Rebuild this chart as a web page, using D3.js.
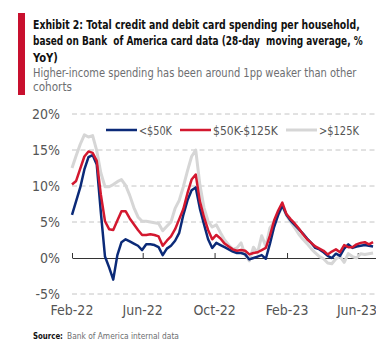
<!DOCTYPE html>
<html>
<head>
<meta charset="utf-8">
<script src="https://cdn.jsdelivr.net/npm/d3@7"></script>
<style>
  body { margin: 0; background: #fff; }
  svg { display: block; font-family: "Liberation Sans Narrow", "DejaVu Sans Condensed", sans-serif; }
</style>
</head>
<body>
<div class="chart"></div>
<script>
// weekly readings, first week starts 2022-02-01
var startDate = new Date(2022, 1, 1);

var under50 = [6.0, 7.9, 9.8, 12.3, 14.0, 14.3, 13.0, 6.3, 0.2, -1.3,
  -3.0, 0.4, 2.2, 2.6, 2.3, 2.0, 1.7, 1.1, 1.9, 1.9,
  1.8, 1.5, 0.4, 1.3, 1.7, 2.4, 3.5, 6.0, 8.0, 9.4,
  9.8, 6.9, 4.7, 2.6, 1.4, 2.1, 1.8, 1.5, 1.2, 0.9,
  0.7, 0.7, 0.5, -0.2, 0.0, 0.2, 0.4, -0.1, 2.0, 4.3,
  6.0, 7.3, 6.0, 5.2, 4.6, 4.0, 3.4, 2.7, 2.1, 1.4,
  1.2, 0.8, 0.3, 0.0, 0.6, 0.3, 1.3, 1.9, 1.4, 1.6,
  1.7, 1.8, 1.7, 1.6];

var mid50to125 = [10.2, 10.7, 12.4, 14.1, 14.8, 14.6, 13.5, 8.8, 5.1, 4.0,
  3.9, 5.2, 6.5, 6.5, 5.5, 4.7, 3.9, 3.2, 3.2, 3.3,
  3.2, 3.0, 1.7, 2.4, 3.0, 4.0, 5.4, 6.8, 9.0, 10.9,
  11.6, 7.9, 5.7, 3.9, 2.6, 3.2, 2.7, 2.0, 1.6, 1.2,
  1.0, 1.1, 1.0, 0.5, 0.7, 0.8, 1.1, 1.4, 3.1, 5.2,
  6.6, 7.7, 6.1, 5.4, 4.8, 4.1, 3.3, 2.6, 2.1, 1.6,
  1.3, 1.0, 0.5, 0.9, 1.2, 0.8, 1.8, 1.5, 1.5, 1.9,
  2.1, 2.2, 1.9, 2.2];

var over125 = [12.5, 14.2, 15.8, 17.1, 16.8, 17.0, 14.9, 11.8, 9.9, 9.9,
  10.2, 10.6, 10.9, 10.1, 8.7, 7.0, 5.7, 5.1, 5.1, 5.0,
  4.9, 4.8, 3.8, 4.4, 5.0, 6.9, 8.0, 9.9, 12.1, 14.1,
  15.0, 10.2, 7.0, 5.1, 4.3, 4.6, 3.5, 2.5, 1.8, 1.2,
  1.4, 2.1, 0.4, -0.4, 1.5, 0.7, 3.1, 1.6, 4.2, 5.0,
  6.0, 7.2, 5.9, 5.0, 4.2, 3.3, 2.6, 2.0, 1.3, 0.7,
  0.2, -0.1, -0.7, -0.8, -0.1, 0.2, -0.6, 0.6, 0.2, 0.0,
  0.6, 0.5, 0.6, 0.7];

var seriesNames = ['<$50K', '$50K-$125K', '>$125K'];
var seriesColors = ['#0b2a78', '#d3182f', '#d6d6d6'];
var yTicks = [-5, 0, 5, 10, 15, 20];
var xTicks = ['2022-02-01', '2022-06-01', '2022-10-01', '2023-02-01', '2023-06-01'];

var titleLines = [
  'Exhibit 2: Total credit and debit card spending per household,',
  'based on Bank  of America card data (28-day  moving average, %',
  'YoY)'
];
var subtitleLines = [
  'Higher-income spending has been around 1pp weaker than other',
  'cohorts'
];

var width = 376;
var height = 341;
var plot = { left: 72, right: 376, top: 114, bottom: 294 };

var svg = d3.select('.chart')
  .append('svg')
    .attr('width', width)
    .attr('height', height);

// squeeze a text to a measured width with a horizontal scale
function fitWidth(sel, widths) {
  sel.each(function(d, i) {
    var natural = this.getComputedTextLength();
    var x = +this.getAttribute('x');
    d3.select(this)
      .attr('x', 0)
      .attr('transform', `translate(${x},0) scale(${widths[i] / natural},1)`);
  });
}

// header
svg.append('rect')
  .attr('x', 18).attr('y', 13)
  .attr('width', 7).attr('height', 82)
  .style('fill', '#c8102e');

var titleY = [29, 45.5, 62];
var titleW = [327, 330, 25];
svg.selectAll('.title')
  .data(titleLines)
  .enter()
  .append('text')
    .attr('class', 'title')
    .attr('x', 33)
    .attr('y', (d, i) => titleY[i])
    .style('font-size', '12.5px')
    .style('font-weight', 'bold')
    .style('fill', '#111')
    .style('white-space', 'pre')
    .text(d => d)
    .call(fitWidth, titleW);

var subY = [77.5, 91];
var subW = [324, 39];
svg.selectAll('.subtitle')
  .data(subtitleLines)
  .enter()
  .append('text')
    .attr('class', 'subtitle')
    .attr('x', 33)
    .attr('y', (d, i) => subY[i])
    .style('font-size', '12.5px')
    .style('fill', '#6d6e71')
    .text(d => d)
    .call(fitWidth, subW);

// scales
var parse = d3.timeParse('%Y-%m-%d');
var xScale = d3.scaleTime()
  .domain([startDate, new Date(2023, 6, 2)])
  .range([plot.left, plot.right]);

var yScale = d3.scaleLinear()
  .domain([-5, 20])
  .range([plot.bottom, plot.top]);

// dashed grid
svg.append('g')
  .selectAll('line')
  .data(yTicks.filter(d => d !== 0))
  .enter()
  .append('line')
    .attr('x1', plot.left)
    .attr('x2', plot.right)
    .attr('y1', d => yScale(d))
    .attr('y2', d => yScale(d))
    .style('stroke', '#c4c4c4')
    .style('stroke-width', 1)
    .style('stroke-dasharray', '5,3.5');

// y labels
var yAxis = svg.append('g')
  .attr('transform', `translate(${plot.left}, 0)`)
  .call(d3.axisLeft(yScale).tickValues(yTicks).tickSize(0).tickPadding(12)
    .tickFormat(d => d + '%'));
yAxis.select('.domain').remove();
yAxis.selectAll('text')
  .style('font-size', '14px')
  .style('font-family', '"Liberation Sans Narrow", "DejaVu Sans Condensed", sans-serif')
  .style('fill', '#555');

// x axis on the zero line
var xAxis = svg.append('g')
  .attr('transform', `translate(0, ${yScale(0)})`)
  .call(d3.axisTop(xScale).tickValues(xTicks.map(parse)).tickSize(5).tickSizeOuter(0)
    .tickFormat(''));
xAxis.select('.domain').style('stroke', '#333');
xAxis.selectAll('.tick line').style('stroke', '#333');

svg.append('g')
  .selectAll('text')
  .data(xTicks)
  .enter()
  .append('text')
    .attr('x', d => Math.min(xScale(parse(d)), 357))
    .attr('y', 315)
    .attr('text-anchor', 'middle')
    .style('font-size', '14px')
    .style('fill', '#555')
    .text(d => d3.timeFormat('%b-%y')(parse(d)));

// lines
var line = d3.line()
  .x((d, i) => xScale(d3.timeDay.offset(startDate, 7 * i)))
  .y(d => yScale(d));

var drawOrder = [
  { values: over125, color: seriesColors[2], w: 3 },
  { values: under50, color: seriesColors[0], w: 2.5 },
  { values: mid50to125, color: seriesColors[1], w: 2.5 }
];

svg.selectAll('.line')
  .data(drawOrder)
  .enter()
  .append('path')
    .attr('class', 'line')
    .attr('d', d => line(d.values))
    .style('stroke', d => d.color)
    .style('stroke-width', d => d.w)
    .style('stroke-linejoin', 'round')
    .style('fill', 'none');

// legend
var legendX = [106, 180, 286];
var legendTextW = [33, 65, 40];
var legend = svg.append('g')
  .selectAll('g')
  .data(seriesNames)
  .enter()
  .append('g')
    .attr('transform', (d, i) => `translate(${legendX[i]}, 130)`);

legend.append('line')
  .attr('x1', 0).attr('x2', 31)
  .style('stroke', (d, i) => seriesColors[i])
  .style('stroke-width', (d, i) => i === 2 ? 3 : 2.5);

legend.append('text')
  .attr('x', 33)
  .attr('y', 4.5)
  .style('font-size', '13px')
  .style('fill', '#555')
  .text(d => d)
  .call(fitWidth, legendTextW);

// source
svg.append('text')
  .attr('x', 33).attr('y', 339)
  .style('font-size', '8.5px')
  .style('font-weight', 'bold')
  .style('fill', '#111')
  .text('Source:')
  .call(fitWidth, [30]);

svg.append('text')
  .attr('x', 67).attr('y', 339)
  .style('font-size', '8.5px')
  .style('fill', '#6d6e71')
  .text('Bank of America internal data')
  .call(fitWidth, [112]);
</script>
</body>
</html>
